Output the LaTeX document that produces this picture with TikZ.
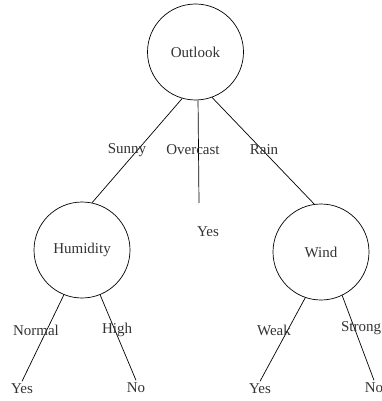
\documentclass[tikz,border=0pt]{standalone}
\usepackage{fontspec}
\setmainfont{Liberation Serif}
\begin{document}
\begin{tikzpicture}[x=1pt,y=-1pt,
  every node/.style={font=\fontsize{15}{16}\selectfont, text=black!80},
  attr/.style={circle, draw=black, line width=0.7pt, minimum size=96pt, inner sep=0pt},
  leaf/.style={inner sep=2.5pt},
  lbl/.style={inner sep=0pt},
  edge/.style={line width=0.7pt}]
\useasboundingbox (0,0) rectangle (381,401);
\node[attr] (outlook) at (195.5,52) {Outlook};
\node[attr] (hum) at (82,250) {Humidity};
\node[attr] (wind) at (321,252) {Wind};
\node[leaf] (yes0) at (208,232) {Yes};
\node[leaf] (yes1) at (22,389) {Yes};
\node[leaf] (no1) at (136,388) {No};
\node[leaf] (yes2) at (260,389) {Yes};
\node[leaf] (no2) at (374,388) {No};
\coordinate (ovend) at (199,203);
\draw[edge] (outlook.254) -- (hum.78);
\draw[edge] (outlook.273) -- (ovend);
\draw[edge] (outlook.290) -- (wind.98);
\draw[edge] (hum.248) -- (yes1.north);
\draw[edge] (hum.292) -- (no1.north);
\draw[edge] (wind.251) -- (yes2.north);
\draw[edge] (wind.296) -- (no2.north);
\node[lbl] at (127,150) {Sunny};
\node[lbl] at (193,150) {Overcast};
\node[lbl] at (264,150) {Rain};
\node[lbl] at (36,330) {Normal};
\node[lbl] at (117,330) {High};
\node[lbl] at (274,330) {Weak};
\node[lbl] at (361,328) {Strong};
\end{tikzpicture}
\end{document}
